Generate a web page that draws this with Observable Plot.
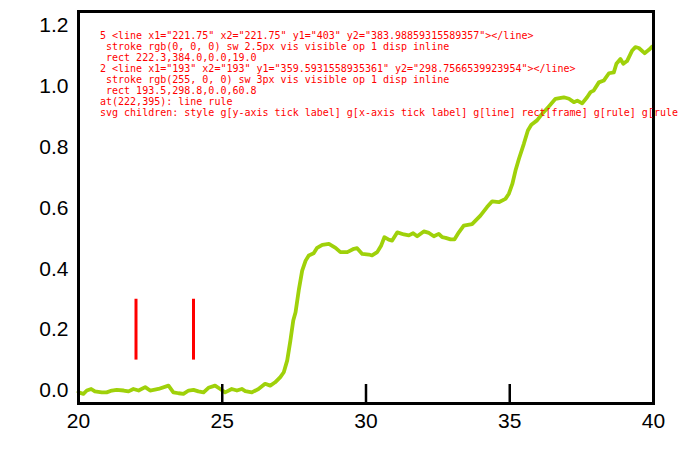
<!DOCTYPE html>
<html>
<head>
<meta charset="utf-8">
<script src="https://cdn.jsdelivr.net/npm/d3@7"></script>
<script src="https://cdn.jsdelivr.net/npm/@observablehq/plot@0.6"></script>
<style>
  html, body { margin: 0; padding: 0; background: #fff; }
  #chart svg { display: block; }
  #dbg { position: absolute; left: 100px; top: 30px; font: 10px monospace; white-space: pre; color: red; }
</style>
</head>
<body>
<div id="chart"></div>
<div id="dbg"></div>
<script>
const time = [20.0,20.06,20.17,20.29,20.44,20.57,20.81,20.98,21.16,21.33,21.57,21.74,21.91,22.09,22.32,22.49,22.78,23.13,23.30,23.48,23.65,23.83,24.0,24.17,24.35,24.52,24.75,24.93,25.10,25.33,25.51,25.68,25.80,26.03,26.26,26.49,26.67,26.84,27.02,27.14,27.26,27.37,27.47,27.55,27.66,27.78,27.90,28.01,28.18,28.30,28.48,28.71,28.94,29.11,29.35,29.58,29.69,29.87,30.10,30.21,30.39,30.53,30.64,30.79,30.91,31.09,31.32,31.49,31.64,31.78,32.01,32.19,32.36,32.53,32.65,32.77,32.94,33.08,33.23,33.40,33.69,33.98,34.21,34.39,34.62,34.85,34.97,35.09,35.20,35.32,35.49,35.63,35.75,35.95,36.13,36.36,36.59,36.88,37.06,37.23,37.35,37.52,37.69,37.81,37.92,38.10,38.27,38.45,38.62,38.71,38.85,38.95,39.08,39.26,39.37,39.49,39.69,39.84,39.96];
const ufs = [-0.005,-0.008,-0.011,0,0.005,-0.003,-0.006,-0.006,0,0.002,0,-0.003,0.005,0,0.011,0,0.005,0.016,-0.006,-0.009,-0.011,0,0.002,-0.003,-0.006,0.009,0.016,0.005,-0.006,0.005,0,0.005,-0.002,-0.006,0.005,0.022,0.016,0.027,0.044,0.060,0.099,0.164,0.230,0.257,0.329,0.394,0.427,0.444,0.451,0.469,0.479,0.482,0.469,0.455,0.455,0.466,0.468,0.449,0.447,0.444,0.455,0.477,0.504,0.496,0.493,0.520,0.513,0.510,0.517,0.507,0.523,0.518,0.507,0.515,0.504,0.502,0.497,0.497,0.520,0.542,0.547,0.575,0.603,0.622,0.619,0.630,0.647,0.679,0.723,0.762,0.811,0.855,0.874,0.888,0.910,0.934,0.959,0.964,0.959,0.948,0.953,0.944,0.964,0.981,0.986,1.013,1.019,1.043,1.046,1.074,1.090,1.074,1.083,1.118,1.129,1.126,1.109,1.120,1.131];
const xMajor = [20, 25, 30, 35, 40];
const yMajor = [0, 0.2, 0.4, 0.6, 0.8, 1, 1.2];
const data = time.map((t, i) => ({t, v: ufs[i]}));
const xDom = [20, 40], yDom = [-0.0427, 1.246];
const plot = Plot.plot({
  width: 678, height: 462, marginLeft: 78, marginRight: 25, marginTop: 11, marginBottom: 59,
  style: {fontFamily: "Liberation Sans, Arial, sans-serif", fontSize: "21px", background: "white", color: "black"},
  x: {domain: xDom, ticks: xMajor, tickSize: 0, tickPadding: 10, label: null},
  y: {domain: yDom, ticks: yMajor, tickSize: 0, tickPadding: 10, label: null},
  marks: [
    Plot.line(data, {x: "t", y: "v", stroke: "#9fd10a", strokeWidth: 3.8}),
    Plot.frame({stroke: "black", strokeWidth: 3}),
    Plot.ruleX(xMajor, {x: v => v, y1: yDom[0], y2: yDom[0] + 0.0625, stroke: "black", strokeWidth: 2.5}),
    Plot.ruleX([22, 24], {x: v => v, y1: 0.1, y2: 0.3, stroke: "red", strokeWidth: 3})
  ]
});
document.getElementById("chart").appendChild(plot);
const out = [];
d3.select(plot).selectAll("g[aria-label='rule']").each(function () {
  const c = this.children[1];
  const cs = getComputedStyle(c);
  const r = c.getBoundingClientRect();
  out.push(this.childElementCount + " " + c.outerHTML + "\n stroke " + cs.stroke + " sw " + cs.strokeWidth + " vis " + cs.visibility + " op " + cs.opacity + " disp " + cs.display + "\n rect " + [r.x, r.y, r.width, r.height].map(d => d.toFixed(1)).join(","));
});
const el = document.elementFromPoint(222, 395);
out.push("at(222,395): " + (el ? el.tagName + " " + (el.parentNode.getAttribute && el.parentNode.getAttribute("aria-label")) : "none"));
out.push("svg children: " + Array.from(plot.children).map(c => c.tagName + (c.getAttribute("aria-label") ? "[" + c.getAttribute("aria-label") + "]" : "")).join(" "));
document.getElementById("dbg").textContent = out.join("\n");
</script>
</body>
</html>
